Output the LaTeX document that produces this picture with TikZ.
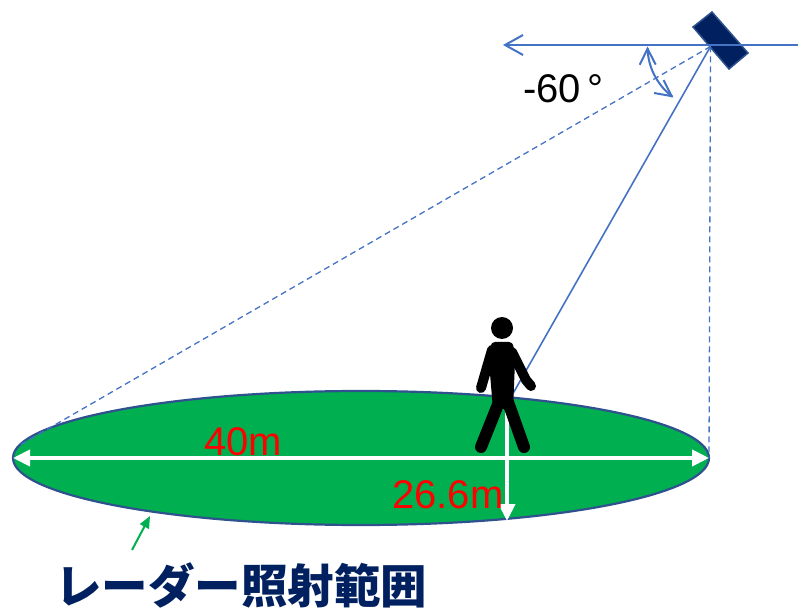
\documentclass[tikz,border=0pt]{standalone}
\usepackage{fontspec}
\setmainfont{Liberation Sans}
\newfontfamily\jpfont{Noto Sans CJK JP}
\usetikzlibrary{arrows.meta}
\definecolor{lineblue}{HTML}{4472C4}
\definecolor{navy}{HTML}{002060}
\definecolor{rim}{HTML}{2F528F}
\definecolor{zone}{HTML}{00B050}
\definecolor{labelred}{HTML}{FF0000}
\begin{document}
\begin{tikzpicture}[x=1pt,y=-1pt,
  barb/.tip={Straight Barb[length=18pt,width=20pt,line width=2pt]},
  arcbarb/.tip={Straight Barb[length=16pt,width=16pt,line width=2pt]},
  whitehead/.tip={Triangle[length=17pt,width=16pt]},
  beam/.style={lineblue, line width=1.6pt},
  guide/.style={lineblue, line width=1.3pt, dash pattern=on 6pt off 4pt},
  measure/.style={white, line width=4pt},
  limb/.style={black, line cap=round, line join=round},
  dimlabel/.style={text=labelred, font=\fontsize{40}{40}\selectfont, inner sep=0pt},
]
\useasboundingbox (0,0) rectangle (798,609);

% key points
\coordinate (apex)   at (710.5,46.5);
\coordinate (farL)   at (503,45);
\coordinate (farR)   at (798,45);
\coordinate (ellC)   at (361,458);
\coordinate (ellL)   at (13,458);
\coordinate (ellR)   at (709,458);
\coordinate (edgeL)  at (20,445);
\coordinate (walker) at (511,397);
\coordinate (depthTop) at (507,407);
\coordinate (depthBot) at (507,521);

% illuminated zone
\fill[zone, draw=rim, line width=2.2pt] (ellC) ellipse [x radius=348pt, y radius=67pt];

% radar unit
\filldraw[fill=navy, draw=rim, line width=1.5pt]
  (693,27) -- (712,12) -- (748,53) -- (729,69) -- cycle;

% horizon line with direction arrow
\draw[lineblue, line width=2pt, -{barb}] (farR) -- (farL);

% beam lines
\draw[guide] (apex) -- (edgeL);
\draw[guide] (apex) -- (ellR);
\draw[beam] (apex) -- (walker);

% tilt angle arc
\draw[lineblue, line width=2pt, {arcbarb}-{arcbarb}]
  plot[domain=180:126, samples=30, smooth] ({710.5+63*cos(\x)}, {46.5+63*sin(\x)});

% width and depth arrows
\draw[measure, {whitehead}-{whitehead}] (ellL) -- (ellR);
\draw[measure, -{whitehead}] (depthTop) -- (depthBot);

% walking person
\fill[black] (502,328) circle (11pt);
\fill[black, rounded corners=4pt]
  (491,342) -- (513,342) -- (515,362) -- (513,409) -- (493,409) -- (489,362) -- cycle;
\draw[limb, line width=10pt] (492,350) -- (481,388);
\draw[limb, line width=10pt] (512,352) -- (526,380) -- (531,386);
\draw[limb, line width=12pt] (499,402) -- (481,447);
\draw[limb, line width=12pt] (508,402) -- (524,447);

% labels
\node[dimlabel, anchor=base west] (lblW) at (204,455) {40m};
\node[dimlabel, anchor=base west] (lblD) at (392,508) {26.6m};
\node[inner sep=0pt, anchor=base west, font=\fontsize{40}{40}\selectfont] (lblA) at (523,103) {-60\,°};

% zone caption with pointer
\node[inner sep=0pt, anchor=base, text=navy, font=\jpfont\bfseries\fontsize{46.5}{46.5}\selectfont] (cap) at (241,603) {レーダー照射範囲};
\coordinate (ptrTail) at (132,550);
\coordinate (ptrTip)  at (150,516);
\draw[zone, line width=2pt, -{Triangle[length=12pt,width=10pt]}] (ptrTail) -- (ptrTip);
\end{tikzpicture}
\end{document}
